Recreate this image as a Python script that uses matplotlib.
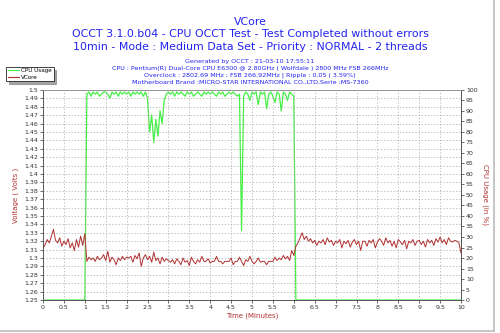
import matplotlib
matplotlib.use('Agg')
import matplotlib.pyplot as plt
from matplotlib.lines import Line2D
import numpy as np

minutes = [i * 0.05 for i in range(201)]

vcore = [
    1.311, 1.316, 1.322, 1.318, 1.326, 1.334, 1.321, 1.318, 1.324, 1.314, 1.320,
    1.316, 1.323, 1.312, 1.318, 1.309, 1.322, 1.313, 1.326, 1.315, 1.329,
    1.296, 1.301, 1.298, 1.300, 1.296, 1.302, 1.298, 1.300, 1.304, 1.297,
    1.308, 1.295, 1.301, 1.298, 1.292, 1.300, 1.297, 1.302, 1.298, 1.301,
    1.300, 1.302, 1.295, 1.303, 1.299, 1.306, 1.290, 1.300, 1.304, 1.298,
    1.302, 1.295, 1.307, 1.297, 1.300, 1.293, 1.301, 1.296, 1.299, 1.297,
    1.295, 1.298, 1.293, 1.299, 1.296, 1.292, 1.300, 1.295, 1.297, 1.291,
    1.301, 1.296, 1.293, 1.298, 1.295, 1.302, 1.296, 1.296, 1.299, 1.294,
    1.296, 1.296, 1.302, 1.296, 1.296, 1.293, 1.296, 1.296, 1.296, 1.300,
    1.292, 1.296, 1.296, 1.301, 1.296, 1.291, 1.298, 1.296, 1.302, 1.296,
    1.293, 1.296, 1.300, 1.295, 1.296, 1.296, 1.292, 1.296, 1.296, 1.296,
    1.301, 1.297, 1.300, 1.298, 1.303, 1.299, 1.302, 1.297, 1.309, 1.303,
    1.314, 1.318, 1.324, 1.330, 1.322, 1.326, 1.320, 1.323, 1.318, 1.321,
    1.315, 1.320, 1.318, 1.322, 1.316, 1.324, 1.319, 1.321, 1.315, 1.320,
    1.318, 1.322, 1.312, 1.320, 1.317, 1.321, 1.313, 1.319, 1.322, 1.316,
    1.320, 1.309, 1.320, 1.320, 1.314, 1.321, 1.318, 1.322, 1.312, 1.319,
    1.323, 1.320, 1.315, 1.324, 1.318, 1.321, 1.314, 1.320, 1.312, 1.322,
    1.319, 1.316, 1.321, 1.311, 1.320, 1.318, 1.322, 1.315, 1.320, 1.321,
    1.316, 1.320, 1.313, 1.322, 1.318, 1.321, 1.315, 1.323, 1.319, 1.325,
    1.318, 1.322, 1.316, 1.324, 1.320, 1.319, 1.321, 1.320, 1.318, 1.306,
]

cpu_usage = (
    [0] * 21
    + [98, 99, 97, 99, 98, 99, 97, 98, 99, 99, 98, 96, 99, 98, 99, 97, 99, 98, 99, 98]
    + [99, 97, 99, 98, 99, 98, 99, 97, 99, 96, 80, 88, 75, 86, 78, 90, 84, 95, 98, 99]
    + [98, 99, 97, 99, 98, 99, 98, 97, 99, 98, 99, 97, 98, 99, 98, 97, 99, 98, 99, 98]
    + [99, 98, 97, 99, 98, 99, 97, 98, 99, 98, 99, 98, 97, 98, 33, 97, 99, 98, 95, 99]
    + [98, 99, 93, 99, 98, 99, 91, 98, 99, 97, 94, 99, 98, 90, 99, 98, 95, 99, 98, 97]
    + [0] * 80
)

title_lines = [
    'OCCT 3.1.0.b04 - CPU OCCT Test - Test Completed without errors',
    '10min - Mode : Medium Data Set - Priority : NORMAL - 2 threads',
]
info_lines = [
    'Generated by OCCT : 21-03-10 17:55:11',
    'CPU : Pentium(R) Dual-Core CPU E6300 @ 2.80GHz ( Wolfdale ) 2800 MHz FSB 266MHz',
    'Overclock : 2802.69 MHz ; FSB 266.92MHz | Ripple : 0.05 ( 3.59%)',
    'Motherboard Brand :MICRO-STAR INTERNATIONAL CO.,LTD,Serie :MS-7360',
]

blue = '#2323f0'
red = '#b03030'
green = '#44f044'
tick_col = '#333333'

fig = plt.figure(figsize=(5, 3.33), dpi=100)
fig.patch.set_facecolor('white')

fig.text(0.5, 0.935, 'VCore', ha='center', va='center', color=blue, fontsize=7.8)
fig.text(0.5, 0.897, title_lines[0], ha='center', va='center', color=blue, fontsize=7.9)
fig.text(0.5, 0.860, title_lines[1], ha='center', va='center', color=blue, fontsize=7.9)
for i, line in enumerate(info_lines):
    fig.text(0.5, 0.816 - i * 0.021, line, ha='center', va='center',
             color=blue, fontsize=4.55)

ax = fig.add_axes((0.086, 0.099, 0.836, 0.631))
ax2 = ax.twinx()
ax.set_zorder(ax2.get_zorder() + 1)
ax.patch.set_visible(False)
ax2.patch.set_facecolor('#fdf8e6')

ax2.plot(minutes, cpu_usage, color=green, lw=0.9)
ax.plot(minutes, vcore, color=red, lw=0.7)

ax.set_xlim(0, 10)
ax.set_ylim(1.25, 1.5)
ax2.set_ylim(0, 100)
ax.set_xticks(np.arange(0, 10.01, 0.5))
ax.set_xticklabels(['%g' % v for v in np.arange(0, 10.01, 0.5)])
ax.set_yticks(np.arange(1.25, 1.5001, 0.01))
ax.set_yticklabels(['%g' % round(v, 2) for v in np.arange(1.25, 1.5001, 0.01)])
ax2.set_yticks(range(0, 101, 5))

for a in (ax, ax2):
    a.tick_params(labelsize=4.5, colors=tick_col, length=2, width=0.5, pad=1.5)
    for s in a.spines.values():
        s.set_color('#555555')
        s.set_linewidth(0.6)
ax.spines['top'].set_color('#999999')

ax.grid(True, color='#aaaaaa', ls=(0, (2, 2.5)), lw=0.5)

ax.set_xlabel('Time (Minutes)', color=red, fontsize=5, labelpad=2)
ax.set_ylabel('Voltage ( Volts )', color=red, fontsize=5, labelpad=4)
ax2.set_ylabel('CPU Usage (in %)', color=red, fontsize=5, rotation=270, labelpad=8)

handles = [Line2D([], [], color=green, lw=0.8), Line2D([], [], color=red, lw=0.8)]
leg = fig.legend(handles, ['CPU Usage', 'VCore'], loc='upper left',
                 bbox_to_anchor=(0.006, 0.808), fontsize=4.1, frameon=True,
                 fancybox=False, shadow=True, handlelength=2.0,
                 borderpad=0.3, labelspacing=0.2, handletextpad=0.4)
leg.get_frame().set_edgecolor('#222222')
leg.get_frame().set_linewidth(0.6)

# light grey frame on the right and bottom edges
fig.add_artist(Line2D([0, 0.988], [0.006, 0.006], color='#bbbbbb', lw=1.2))
fig.add_artist(Line2D([0.988, 0.988], [0.006, 1.0], color='#bbbbbb', lw=1.2))

fig.savefig('out.png', dpi=100)
